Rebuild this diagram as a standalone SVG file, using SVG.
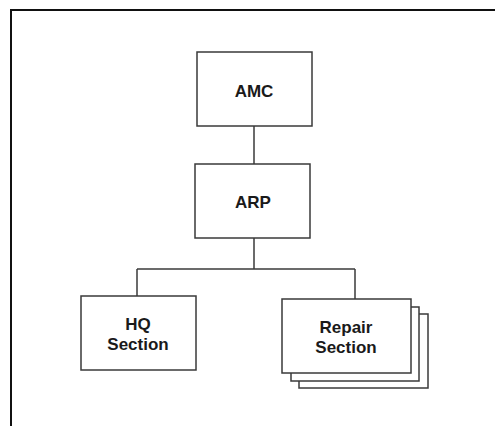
<svg xmlns="http://www.w3.org/2000/svg" width="495" height="426" viewBox="0 0 495 426">
<style>
.box{fill:#fff;stroke:#3a3a3a;stroke-width:1.5}
.ln{stroke:#3a3a3a;stroke-width:1.5;fill:none}
.t{font-family:"Liberation Sans",Arial,sans-serif;font-weight:bold;font-size:17px;fill:#1a1a1a;text-anchor:middle}
</style>
<rect width="495" height="426" fill="#fff"/>
<path d="M11 426V10H495" fill="none" stroke="#111" stroke-width="2"/>
<g id="connectors">
<line class="ln" x1="254" y1="126" x2="254" y2="164"/>
<line class="ln" x1="254" y1="238" x2="254" y2="269"/>
<line class="ln" x1="137" y1="269" x2="355" y2="269"/>
<line class="ln" x1="137" y1="269" x2="137" y2="296"/>
<line class="ln" x1="355" y1="269" x2="355" y2="299"/>
</g>
<g id="amc">
<rect class="box" x="197" y="52" width="115" height="74"/>
<text class="t" x="254" y="97">AMC</text>
</g>
<g id="arp">
<rect class="box" x="195" y="164" width="115" height="74"/>
<text class="t" x="253" y="208">ARP</text>
</g>
<g id="hq">
<rect class="box" x="81" y="296" width="115" height="74"/>
<text class="t" x="138" y="330">HQ</text>
<text class="t" x="138" y="350">Section</text>
</g>
<g id="repair">
<rect class="box" x="299" y="314" width="129" height="74"/>
<rect class="box" x="291" y="307" width="128" height="74"/>
<rect class="box" x="282" y="299" width="129" height="74"/>
<text class="t" x="346" y="333">Repair</text>
<text class="t" x="346" y="353">Section</text>
</g>
</svg>
